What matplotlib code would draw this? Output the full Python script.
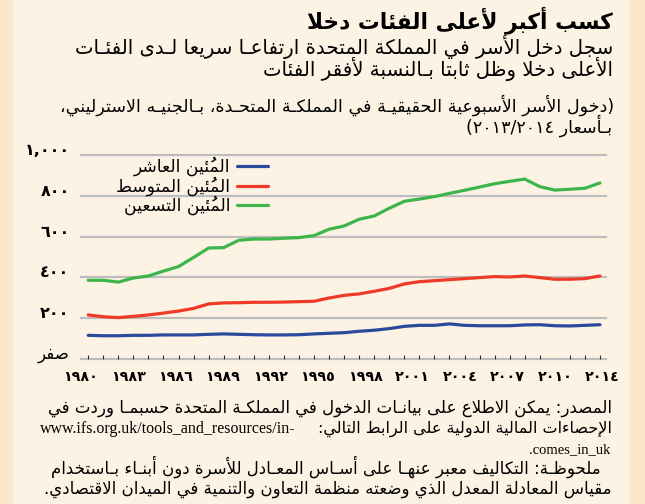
import unicodedata
import numpy as np
import matplotlib
matplotlib.use('Agg')
import matplotlib.pyplot as plt
from matplotlib.patches import Rectangle

years = np.arange(1980, 2015)
p10 = [116, 114, 114, 116, 116, 118, 118, 118, 121, 123, 121, 119, 118, 118, 119, 123, 126,
       129, 136, 141, 149, 160, 165, 165, 172, 165, 163, 163, 163, 167, 168, 163, 162, 165, 168]
p50 = [216, 207, 203, 209, 216, 225, 235, 248, 270, 275, 276, 278, 278, 279, 281, 283, 299,
       312, 319, 332, 346, 368, 379, 384, 389, 394, 399, 404, 402, 407, 399, 391, 391, 394, 407]
p90 = [386, 386, 377, 397, 407, 431, 453, 498, 544, 546, 582, 588, 588, 592, 595, 605, 636,
       652, 685, 701, 739, 773, 784, 796, 812, 827, 843, 859, 871, 882, 845, 828, 832, 837, 863]

series_names = ['المُئين العاشر', 'المُئين المتوسط', 'المُئين التسعين']
series_colors = ['#2b4a9c', '#ee3a26', '#3db54a']

yticks = [0, 200, 400, 600, 800, 1000]
ylabels = ['صفر', '٢٠٠', '٤٠٠', '٦٠٠', '٨٠٠', '١,٠٠٠']
xlabels = ['١٩٨٠', '١٩٨٣', '١٩٨٦', '١٩٨٩', '١٩٩٢', '١٩٩٥',
           '١٩٩٨', '٢٠٠١', '٢٠٠٤', '٢٠٠٧', '٢٠١٠', '٢٠١٤']

title = 'كسب أكبر لأعلى الفئات دخلا'
subtitle = ['سجل دخل الأسر في المملكة المتحدة ارتفاعـا سريعا لـدى الفئـات',
            'الأعلى دخلا وظل ثابتا بـالنسبة لأفقر الفئات']
units = ['(دخول الأسر الأسبوعية الحقيقيـة في المملكـة المتحـدة، بـالجنيـه الاسترليني،',
         'بـأسعار ٢٠١٣/٢٠١٤)']
source = ['المصدر: يمكن الاطلاع على بيانـات الدخول في المملكـة المتحدة حسبمـا وردت في',
          'الإحصاءات المالية الدولية على الرابط التالي:']
url = ['www.ifs.org.uk/tools_and_resources/in-', 'comes_in_uk.']
note = ['ملحوظـة: التكاليف معبر عنهـا على أسـاس المعـادل للأسرة دون أبنـاء بـاستخدام',
        'مقياس المعادلة المعدل الذي وضعته منظمة التعاون والتنمية في الميدان الاقتصادي.']


# --- minimal arabic shaping + right-to-left ordering (matplotlib does neither)
FORMS = {}
for cp in range(0xFE70, 0xFF00):
    dec = unicodedata.decomposition(chr(cp)).split()
    if len(dec) > 1 and dec[0] in ('<isolated>', '<final>', '<initial>', '<medial>'):
        key = ''.join(chr(int(h, 16)) for h in dec[1:])
        FORMS.setdefault(key, {})[dec[0][1:-1]] = chr(cp)


def is_mark(c):
    return unicodedata.combining(c) != 0


def shape(s):
    parts = []
    i = 0
    while i < len(s):
        if s[i] == 'ل' and i + 1 < len(s) and s[i + 1] in 'آأإا':
            parts.append(s[i:i + 2])
            i += 2
        else:
            parts.append(s[i])
            i += 1

    def letter(u):
        return u == 'ـ' or (u in FORMS and 'isolated' in FORMS[u])

    def dual(u):
        return u == 'ـ' or 'initial' in FORMS.get(u, {})

    out = []
    for i, u in enumerate(parts):
        if u == 'ـ' or not letter(u):
            out.append(u)
            continue
        j = i - 1
        while j >= 0 and is_mark(parts[j][0]):
            j -= 1
        k = i + 1
        while k < len(parts) and is_mark(parts[k][0]):
            k += 1
        prev = j >= 0 and letter(parts[j]) and dual(parts[j])
        nxt = k < len(parts) and letter(parts[k]) and dual(u)
        if prev:
            form = 'medial' if nxt else 'final'
        else:
            form = 'initial' if nxt else 'isolated'
        out.append(FORMS[u].get(form, FORMS[u]['isolated']))
    return ''.join(out)


def ar(s):
    s = shape(s)

    def kind(ch):
        if ch.isdigit() or 'a' <= ch.lower() <= 'z':
            return 'L'
        if ch in ' .,/:_-()':
            return 'N'
        return 'R'
    kinds = [kind(c) for c in s]
    res = []
    for i, k in enumerate(kinds):
        if k == 'N':
            a = i - 1
            while a >= 0 and kinds[a] == 'N':
                a -= 1
            b = i + 1
            while b < len(kinds) and kinds[b] == 'N':
                b += 1
            k = 'L' if (a >= 0 and b < len(kinds) and kinds[a] == 'L' and kinds[b] == 'L') else 'R'
        res.append(k)
    runs = []
    for c, k in zip(s, res):
        if runs and runs[-1][0] == k:
            runs[-1][1].append(c)
        else:
            runs.append([k, [c]])
    mirror = {'(': ')', ')': '('}
    out = ''
    for k, cs in reversed(runs):
        if k == 'R':
            out += ''.join(mirror.get(c, c) for c in reversed(cs))
        else:
            out += ''.join(cs)
    return out


plt.rcParams['font.family'] = ['DejaVu Sans']
W, H = 645, 504
fig = plt.figure(figsize=(W / 100, H / 100), dpi=100)
fig.patch.set_facecolor('#fde7ca')
fig.patches.append(Rectangle((13 / W, 0), 617 / W, 1, transform=fig.transFigure,
                             facecolor='#fdf3e4', edgecolor='none', zorder=-5))


def ftext(x, y, s, **kw):
    return fig.text(x / W, 1 - y / H, s, va='baseline', **kw)


ax = fig.add_axes([80.7 / W, 1 - 359 / H, (606 - 80.7) / W, (359 - 155) / H])
ax.set_facecolor('none')
for s in ax.spines.values():
    s.set_visible(False)

ax.set_xlim(years[0] - 0.42, years[-1] + 0.4)
ax.set_ylim(0, 1000)
for v in yticks:
    ax.axhline(v, color='#bdbdbd', lw=1.6, zorder=1, clip_on=False)

for vals, name, col in zip([p10, p50, p90], series_names, series_colors):
    ax.plot(years, vals, color=col, lw=2.3, solid_capstyle='round',
            solid_joinstyle='round', label=ar(name), zorder=3)

ax.set_yticks(yticks)
ax.set_yticklabels([ar(t) for t in ylabels])
ax.tick_params(axis='y', length=0, pad=8)
for t in ax.get_yticklabels():
    t.set_va('baseline')
    t.set_fontsize(11.5)
    t.set_fontweight('bold')
ax.get_yticklabels()[0].set_fontweight('normal')
ax.get_yticklabels()[0].set_fontsize(12)

ax.set_xticks(years, minor=True)
ax.set_xticks(np.linspace(years[0] - 0.5, years[-1] + 0.15, len(xlabels)))
ax.set_xticklabels(xlabels, fontsize=10.3, fontweight='bold')
ax.tick_params(axis='x', which='major', length=0, pad=8)
ax.tick_params(axis='x', which='minor', direction='in', length=3.2, width=0.8, color='#333333')

leg = ax.legend(loc='upper right', bbox_to_anchor=(268 / W, 1 - 157 / H),
                bbox_transform=fig.transFigure, frameon=False, markerfirst=False,
                fontsize=12.3, handlelength=1.8, handletextpad=0.4, labelspacing=0.0,
                borderpad=0, borderaxespad=0)

ftext(613, 28, ar(title), ha='right', fontsize=15.7, fontweight='bold')
ftext(613, 54, ar(subtitle[0]), ha='right', fontsize=14.2)
ftext(613, 76, ar(subtitle[1]), ha='right', fontsize=14.2)
ftext(614, 112, ar(units[0]), ha='right', fontsize=12.6)
ftext(612, 133, ar(units[1]), ha='right', fontsize=12.6)

ftext(612, 413, ar(source[0]), ha='right', fontsize=12)
ftext(612, 433, ar(source[1]), ha='right', fontsize=11.5)
ftext(40, 433, url[0], ha='left', fontsize=11.5, family='Liberation Serif')
ftext(610, 453, ar(url[1]), ha='right', fontsize=10.5, family='Liberation Serif')
ftext(601, 474, ar(note[0]), ha='right', fontsize=12)
ftext(612, 494, ar(note[1]), ha='right', fontsize=12)

fig.savefig('out.png', dpi=100, facecolor=fig.get_facecolor())
